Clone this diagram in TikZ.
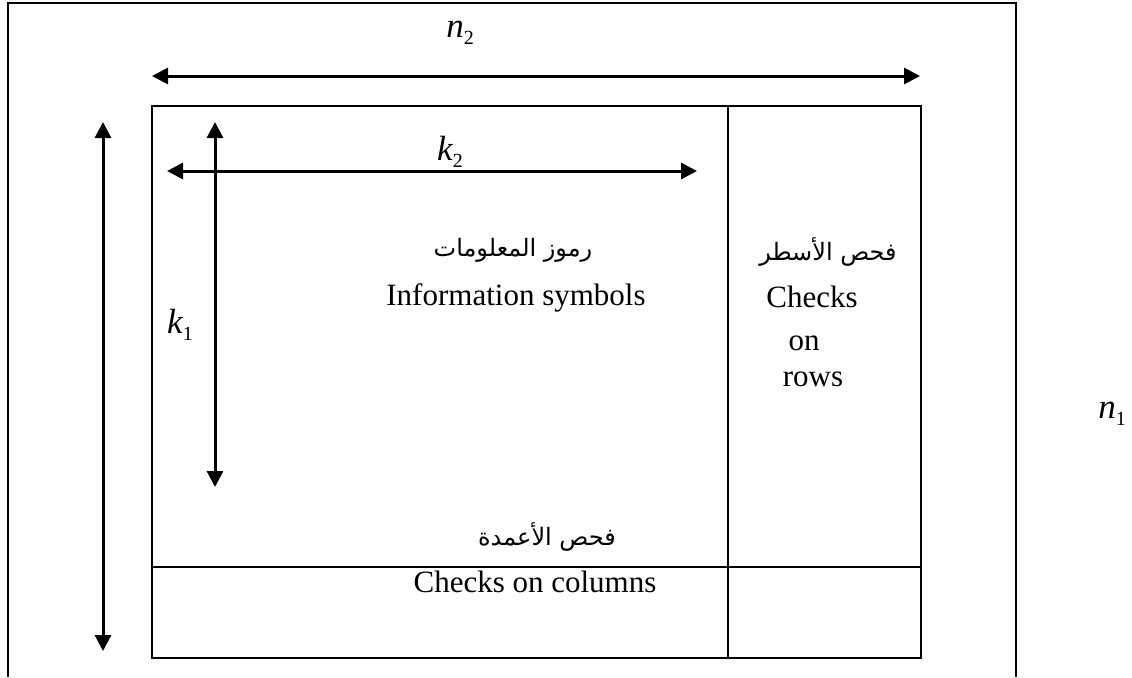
\documentclass[tikz,border=0pt]{standalone}
\usepackage{fontspec}
\setmainfont{Liberation Serif}
\newfontfamily\arabicfont[Script=Arabic]{DejaVu Sans}
\TeXXeTstate=1
\usetikzlibrary{arrows.meta}
\begin{document}
\begin{tikzpicture}[x=0.5pt,y=-0.5pt,
  frame/.style={line width=1pt},
  dimarrow/.style={line width=1.5pt,{Triangle[length=8pt,width=8pt]}-{Triangle[length=8pt,width=8pt]}},
  lbl/.style={font=\fontsize{15.5}{18}\selectfont,inner sep=0pt,anchor=base},
  arlbl/.style={font=\fontsize{12}{14}\selectfont\arabicfont,inner sep=0pt},
  mathlbl/.style={font=\fontsize{17.5}{20}\selectfont,inner sep=0pt,anchor=base}]
\useasboundingbox (0,0) rectangle (1132,677);
% outer frame (open at the bottom)
\coordinate (oBL) at (8,677);
\coordinate (oTL) at (8,3);
\coordinate (oTR) at (1016,3);
\coordinate (oBR) at (1016,677);
\draw[frame] (oBL) -- (oTL) -- (oTR) -- (oBR);
% inner block
\node[draw,frame,minimum width=769*0.5pt,minimum height=552*0.5pt,inner sep=0pt,anchor=north west] (block) at (151,105) {};
\coordinate (divT) at (728,105);
\coordinate (divB) at (728,657);
\coordinate (hL) at (151,567);
\coordinate (hR) at (920,567);
\draw[frame] (divT) -- (divB);
\draw[frame] (hL) -- (hR);
% dimension arrows
\coordinate (n2L) at (152,76);
\coordinate (n2R) at (920,76);
\draw[dimarrow] (n2L) -- (n2R);
\coordinate (n1T) at (103,122);
\coordinate (n1B) at (103,651);
\draw[dimarrow] (n1T) -- (n1B);
\coordinate (k1T) at (215,122);
\coordinate (k1B) at (215,487);
\draw[dimarrow] (k1T) -- (k1B);
\coordinate (k2L) at (167,171);
\coordinate (k2R) at (697,171);
\draw[dimarrow] (k2L) -- (k2R);
% dimension labels
\node[mathlbl] (n2) at (460,37) {\itshape n\raisebox{-0.45ex}{\fontsize{10}{12}\selectfont\upshape 2}};
\node[mathlbl] (k2) at (450,160) {\itshape k\raisebox{-0.45ex}{\fontsize{10}{12}\selectfont\upshape 2}};
\node[mathlbl] (k1) at (180,333) {\itshape k\raisebox{-0.45ex}{\fontsize{10}{12}\selectfont\upshape 1}};
\node[mathlbl] (n1) at (1112,418) {\itshape n\raisebox{-0.45ex}{\fontsize{10}{12}\selectfont\upshape 1}};
% texts
\node[arlbl] (infoar) at (513,250) {\beginR رموز المعلومات\endR};
\node[lbl] (info) at (516,305) {Information symbols};
\node[arlbl] (rowsar) at (828,252) {\beginR فحص الأسطر\endR};
\node[lbl] (checks) at (812,307) {Checks};
\node[lbl] (on) at (804,350) {on};
\node[lbl] (rows) at (813,386) {rows};
\node[arlbl] (colsar) at (547,537) {\beginR فحص الأعمدة\endR};
\node[lbl] (cols) at (535,592) {Checks on columns};
\end{tikzpicture}
\end{document}
